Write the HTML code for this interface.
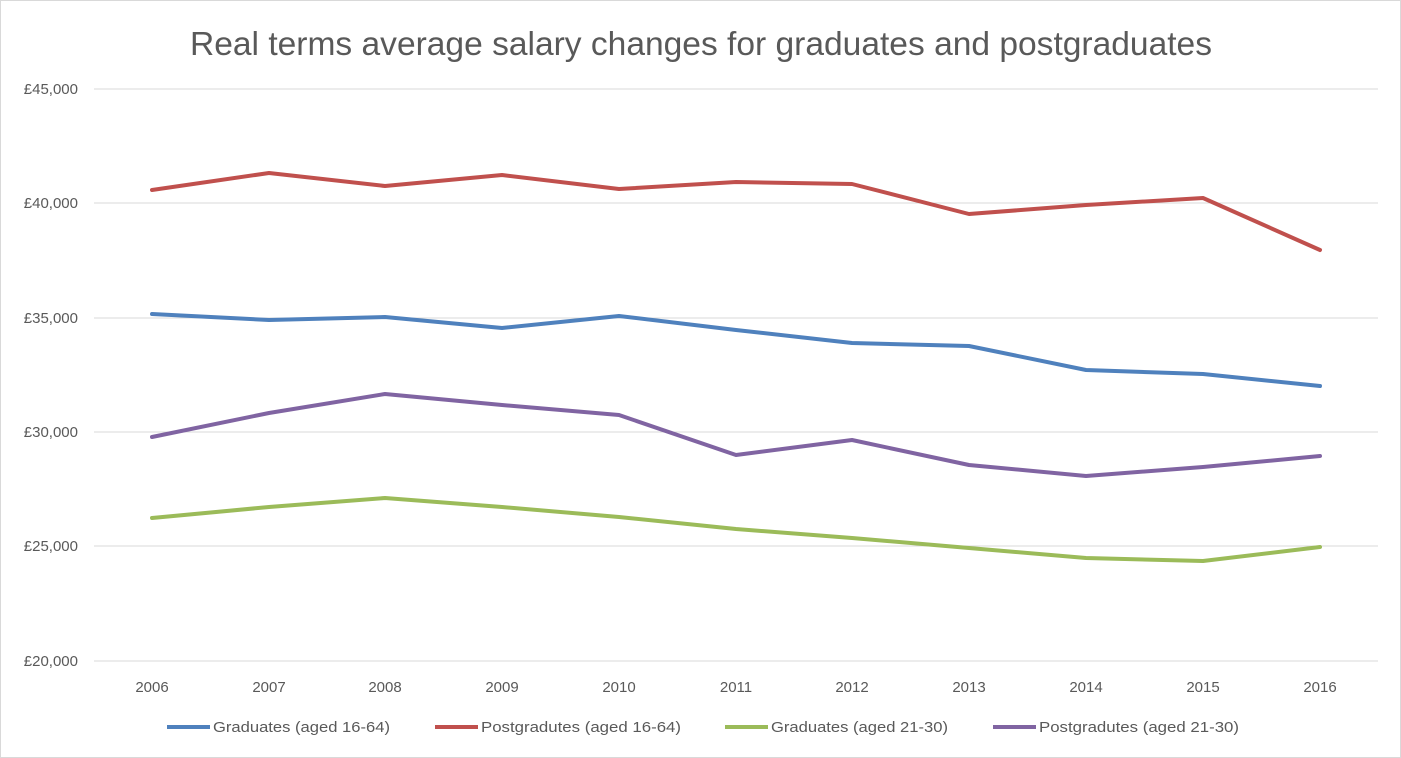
<!DOCTYPE html>
<html><head><meta charset="utf-8"><style>
body{margin:0;background:#fff}
svg{display:block;font-family:"Liberation Sans",sans-serif}
</style></head><body>
<svg width="1401" height="758" viewBox="0 0 1401 758">
<rect x="0.5" y="0.5" width="1400" height="757" fill="#fff" stroke="#d9d9d9"/>
<text x="190" y="55" textLength="1022" lengthAdjust="spacingAndGlyphs" font-size="33" fill="#595959">Real terms average salary changes for graduates and postgraduates</text>
<g stroke="#d9d9d9" stroke-width="1">
<line x1="94" y1="89" x2="1378" y2="89"/><line x1="94" y1="203" x2="1378" y2="203"/>
<line x1="94" y1="318" x2="1378" y2="318"/><line x1="94" y1="432" x2="1378" y2="432"/>
<line x1="94" y1="546" x2="1378" y2="546"/><line x1="94" y1="661" x2="1378" y2="661"/>
</g>
<g font-size="15" fill="#595959" text-anchor="end">
<text x="78" y="94">£45,000</text><text x="78" y="208">£40,000</text><text x="78" y="323">£35,000</text>
<text x="78" y="437">£30,000</text><text x="78" y="551">£25,000</text><text x="78" y="666">£20,000</text>
</g>
<g font-size="15" fill="#595959" text-anchor="middle">
<text x="152" y="692">2006</text><text x="269" y="692">2007</text><text x="385" y="692">2008</text><text x="502" y="692">2009</text><text x="619" y="692">2010</text><text x="736" y="692">2011</text><text x="852" y="692">2012</text><text x="969" y="692">2013</text><text x="1086" y="692">2014</text><text x="1203" y="692">2015</text><text x="1320" y="692">2016</text>
</g>
<g fill="none" stroke-width="4" stroke-linejoin="round" stroke-linecap="round">
<polyline stroke="#c0504d" points="152,190 269,173 385,186 502,175 619,189 736,182 852,184 969,214 1086,205 1203,198 1320,250"/>
<polyline stroke="#4f81bd" points="152,314 269,320 385,317 502,328 619,316 736,330 852,343 969,346 1086,370 1203,374 1320,386"/>
<polyline stroke="#8064a2" points="152,437 269,413 385,394 502,405 619,415 736,455 852,440 969,465 1086,476 1203,467 1320,456"/>
<polyline stroke="#9bbb59" points="152,518 269,507 385,498 502,507 619,517 736,529 852,538 969,548 1086,558 1203,561 1320,547"/>
</g>
<g stroke-width="4">
<line x1="167" y1="727" x2="210" y2="727" stroke="#4f81bd"/>
<line x1="435" y1="727" x2="478" y2="727" stroke="#c0504d"/>
<line x1="725" y1="727" x2="768" y2="727" stroke="#9bbb59"/>
<line x1="993" y1="727" x2="1036" y2="727" stroke="#8064a2"/>
</g>
<g font-size="15" fill="#595959">
<text x="213" y="732" textLength="177" lengthAdjust="spacingAndGlyphs">Graduates (aged 16-64)</text>
<text x="481" y="732" textLength="200" lengthAdjust="spacingAndGlyphs">Postgradutes (aged 16-64)</text>
<text x="771" y="732" textLength="177" lengthAdjust="spacingAndGlyphs">Graduates (aged 21-30)</text>
<text x="1039" y="732" textLength="200" lengthAdjust="spacingAndGlyphs">Postgradutes (aged 21-30)</text>
</g>
</svg>
</body></html>
